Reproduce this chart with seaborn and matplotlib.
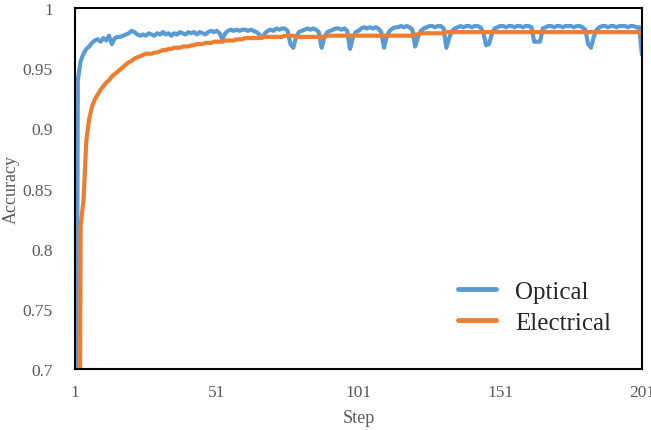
import numpy as np
import pandas as pd
import matplotlib
matplotlib.use("Agg")
import matplotlib.pyplot as plt
import seaborn as sns

steps = list(range(1, 202))

optical = [
    0.300, 0.940, 0.956, 0.962, 0.966, 0.968, 0.971, 0.973, 0.974, 0.972,
    0.975, 0.973, 0.977, 0.970, 0.975, 0.976, 0.976, 0.977, 0.978, 0.979,
    0.981, 0.980, 0.978, 0.977, 0.978, 0.977, 0.979, 0.978, 0.977, 0.979,
    0.978, 0.980, 0.978, 0.979, 0.977, 0.979, 0.978, 0.980, 0.979, 0.978,
    0.980, 0.979, 0.980, 0.978, 0.980, 0.979, 0.978, 0.980, 0.981, 0.980,
    0.981, 0.979, 0.974, 0.979, 0.981, 0.982, 0.981, 0.982, 0.981, 0.982,
    0.982, 0.981, 0.982, 0.981, 0.980, 0.978, 0.975, 0.979, 0.981, 0.982,
    0.981, 0.983, 0.982, 0.983, 0.983, 0.981, 0.970, 0.967, 0.976, 0.980,
    0.981, 0.982, 0.983, 0.982, 0.983, 0.982, 0.980, 0.967, 0.976, 0.980,
    0.981, 0.982, 0.983, 0.983, 0.982, 0.983, 0.981, 0.966, 0.975, 0.980,
    0.981, 0.983, 0.984, 0.983, 0.984, 0.983, 0.984, 0.983, 0.980, 0.967,
    0.977, 0.981, 0.983, 0.984, 0.984, 0.985, 0.984, 0.985, 0.984, 0.982,
    0.968, 0.976, 0.981, 0.983, 0.984, 0.985, 0.985, 0.984, 0.985, 0.985,
    0.983, 0.967, 0.975, 0.981, 0.983, 0.984, 0.985, 0.984, 0.985, 0.985,
    0.984, 0.985, 0.985, 0.984, 0.980, 0.969, 0.970, 0.978, 0.983, 0.984,
    0.985, 0.985, 0.984, 0.985, 0.985, 0.984, 0.985, 0.985, 0.984, 0.985,
    0.985, 0.984, 0.972, 0.972, 0.972, 0.983, 0.984, 0.985, 0.985, 0.984,
    0.985, 0.985, 0.984, 0.985, 0.985, 0.985, 0.984, 0.985, 0.985, 0.984,
    0.982, 0.970, 0.967, 0.976, 0.982, 0.984, 0.985, 0.985, 0.984, 0.985,
    0.985, 0.984, 0.985, 0.985, 0.985, 0.984, 0.985, 0.985, 0.984, 0.984,
    0.961,
]

electrical = [
    0.100, 0.270, 0.820, 0.840, 0.890, 0.908, 0.918, 0.924, 0.928, 0.932,
    0.935, 0.938, 0.940, 0.943, 0.945, 0.947, 0.949, 0.951, 0.953, 0.955,
    0.956, 0.958, 0.959, 0.960, 0.961, 0.962, 0.962, 0.962, 0.963, 0.963,
    0.964, 0.965, 0.965, 0.966, 0.966, 0.967, 0.967, 0.967, 0.968, 0.968,
    0.968, 0.969, 0.969, 0.970, 0.970, 0.970, 0.971, 0.971, 0.971, 0.972,
    0.972, 0.972, 0.972, 0.973, 0.973, 0.973, 0.973, 0.974, 0.974, 0.974,
    0.975, 0.975, 0.975, 0.975, 0.975, 0.975, 0.976, 0.976, 0.976, 0.976,
    0.976, 0.976, 0.976, 0.976, 0.977, 0.977, 0.977, 0.977, 0.976, 0.976,
    0.976, 0.976, 0.976, 0.976, 0.976, 0.976, 0.976, 0.976, 0.976, 0.977,
    0.977, 0.977, 0.977, 0.977, 0.977, 0.977, 0.977, 0.977, 0.977, 0.977,
    0.977, 0.977, 0.977, 0.977, 0.977, 0.977, 0.977, 0.977, 0.977, 0.977,
    0.977, 0.977, 0.977, 0.977, 0.977, 0.977, 0.977, 0.977, 0.977, 0.977,
    0.978, 0.978, 0.979, 0.979, 0.979, 0.979, 0.979, 0.979, 0.979, 0.979,
    0.979, 0.980, 0.980, 0.980, 0.980, 0.980, 0.980, 0.980, 0.980, 0.980,
    0.980, 0.980, 0.980, 0.980, 0.980, 0.980, 0.980, 0.980, 0.980, 0.980,
    0.980, 0.980, 0.980, 0.980, 0.980, 0.980, 0.980, 0.980, 0.980, 0.980,
    0.980, 0.980, 0.980, 0.980, 0.980, 0.980, 0.980, 0.980, 0.980, 0.980,
    0.980, 0.980, 0.980, 0.980, 0.980, 0.980, 0.980, 0.980, 0.980, 0.980,
    0.980, 0.980, 0.980, 0.980, 0.980, 0.980, 0.980, 0.980, 0.980, 0.980,
    0.980, 0.980, 0.980, 0.980, 0.980, 0.980, 0.980, 0.980, 0.980, 0.980,
    0.978,
]

series_names = ["Optical", "Electrical"]
series_colors = ["#5B9BD5", "#ED7D31"]
x_ticks = [1, 51, 101, 151, 201]
y_ticks = [0.7, 0.75, 0.8, 0.85, 0.9, 0.95, 1.0]
y_tick_labels = ["0.7", "0.75", "0.8", "0.85", "0.9", "0.95", "1"]

df = pd.DataFrame({
    "Step": steps * 2,
    "Accuracy": optical + electrical,
    "Series": [series_names[0]] * len(steps) + [series_names[1]] * len(steps),
})

sns.set_theme(style="white")
plt.rcParams["font.family"] = ["Liberation Serif", "DejaVu Serif"]

fig = plt.figure(figsize=(6.51, 4.31), dpi=100)
ax = fig.add_axes([75 / 651, 1 - 370 / 431, 567 / 651, 361 / 431])

sns.lineplot(data=df, x="Step", y="Accuracy", hue="Series",
             palette=dict(zip(series_names, series_colors)),
             linewidth=3, ax=ax, legend=True)

ax.set_xlim(1, 201)
ax.set_ylim(0.7, 1.0)
ax.set_xticks(x_ticks)
ax.set_xticklabels([str(t) for t in x_ticks])
ax.set_yticks(y_ticks)
ax.set_yticklabels(y_tick_labels)

gray = "#595959"
ax.tick_params(axis="x", direction="in", length=5, width=1.2, color="black",
               labelsize=12.5, labelcolor=gray, pad=11)
ax.tick_params(axis="y", length=0, labelsize=12.5, labelcolor=gray, pad=16)
ax.set_xlabel("Step", fontsize=13, color=gray, labelpad=6)
ax.set_ylabel("Accuracy", fontsize=13, color=gray)
ax.yaxis.set_label_coords(-0.098, 0.5)

for s in ax.spines.values():
    s.set_visible(True)
    s.set_color("black")
    s.set_linewidth(1.5)

handles, labels = ax.get_legend_handles_labels()
leg = ax.legend(handles, labels, loc="center", bbox_to_anchor=(0.81, 0.172),
                frameon=False, fontsize=18, handlelength=1.55,
                handletextpad=0.75, labelspacing=0.35)
for line in leg.get_lines():
    line.set_linewidth(3.5)

fig.savefig("out.png", dpi=100)
